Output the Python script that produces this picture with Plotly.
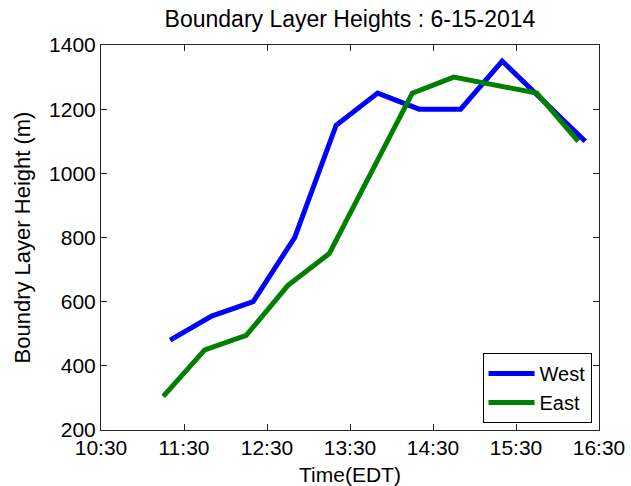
import plotly.graph_objects as go

# Boundary layer height estimates, 15 June 2014
day = "2014-06-15"

west_times = ["11:20", "11:50", "12:20", "12:50", "13:20", "13:50",
              "14:20", "14:50", "15:20", "16:20"]
west_heights = [480, 555, 600, 800, 1150, 1250, 1200, 1200, 1350, 1100]

east_times = ["11:15", "11:45", "12:15", "12:45", "13:15", "14:15",
              "14:45", "15:45", "16:15"]
east_heights = [305, 450, 495, 650, 750, 1250, 1300, 1250, 1100]

x_ticks = ["10:30", "11:30", "12:30", "13:30", "14:30", "15:30", "16:30"]
y_ticks = [200, 400, 600, 800, 1000, 1200, 1400]


def stamp(hhmm):
    return f"{day} {hhmm}"


FONT = "Liberation Sans, Arial, sans-serif"
PLOT_TOP, PLOT_BOTTOM = 45, 430
PLOT_H = PLOT_BOTTOM - PLOT_TOP

fig = go.Figure()
fig.add_trace(go.Scatter(
    x=[stamp(t) for t in west_times], y=west_heights,
    mode="lines", name="West",
    line=dict(color="#0000ff", width=5),
))
fig.add_trace(go.Scatter(
    x=[stamp(t) for t in east_times], y=east_heights,
    mode="lines", name="East",
    line=dict(color="#008000", width=5),
))

axis_common = dict(
    showgrid=False, zeroline=False, automargin=False,
    showline=True, linecolor="#262626", linewidth=1,
    mirror="ticks", ticks="inside", ticklen=6, tickcolor="#262626",
    tickfont=dict(family=FONT, size=21, color="black"),
)

fig.update_layout(
    width=631, height=486,
    margin=dict(l=101, r=32, t=PLOT_TOP, b=486 - PLOT_BOTTOM),
    paper_bgcolor="white", plot_bgcolor="white",
    font=dict(family=FONT, color="black"),
    title=dict(
        text="Boundary Layer Heights : 6-15-2014",
        font=dict(family=FONT, size=23, color="black"),
        x=(101 + 599) / 2 / 631, xanchor="center",
        y=1 - 19 / 486, yanchor="middle", yref="container",
    ),
    xaxis=dict(
        **axis_common,
        type="date",
        range=[stamp(x_ticks[0]), stamp(x_ticks[-1])],
        tickvals=[stamp(t) for t in x_ticks],
        ticktext=x_ticks,
        ticklabelstandoff=-1,
    ),
    yaxis=dict(
        **axis_common,
        range=[y_ticks[0], y_ticks[-1]],
        tickvals=y_ticks,
        title=dict(text="Boundry Layer Height (m)", font=dict(family=FONT, size=22), standoff=12),
    ),
    legend=dict(
        x=0.985, xanchor="right", y=0.018, yanchor="bottom",
        bgcolor="white", bordercolor="black", borderwidth=1,
        font=dict(family=FONT, size=20, color="black"),
        tracegroupgap=0, itemwidth=46,
    ),
    showlegend=True,
    annotations=[dict(
        text="Time(EDT)", showarrow=False,
        xref="paper", yref="paper", x=0.5, xanchor="center",
        y=-(474 - PLOT_BOTTOM) / PLOT_H, yanchor="middle",
        font=dict(family=FONT, size=21, color="black"),
    )],
)

fig.write_html("out.html")
